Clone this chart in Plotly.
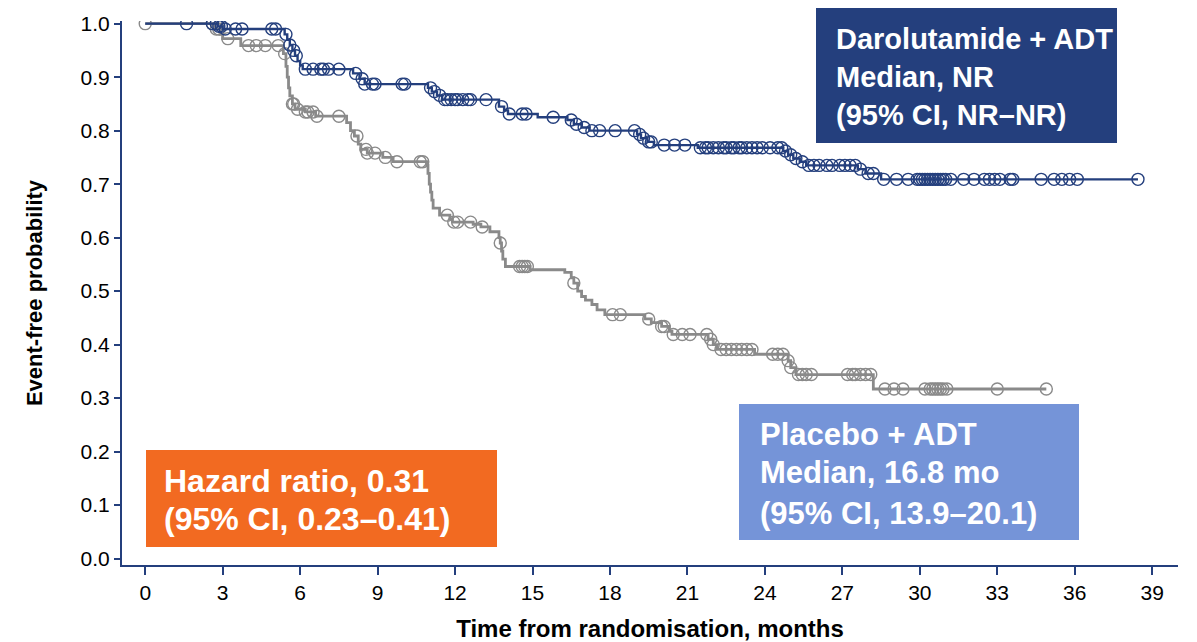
import plotly.graph_objects as go

# ---------------- data ----------------
# Darolutamide + ADT : event times (months) and survival after each event
daro_event_t = [2.8, 3.0, 5.4, 5.5, 5.6, 5.7, 5.8, 5.9, 6.0, 6.1,
                8.05, 8.3, 8.5, 10.95, 11.1, 11.3, 11.5, 13.7, 13.9, 14.05,
                15.2, 16.35, 16.6, 16.9, 17.2, 19.05, 19.2, 19.45, 19.7, 21.4,
                24.7, 24.9, 25.1, 25.35, 25.6, 27.6, 27.9, 28.5]
daro_event_s = [0.995, 0.99, 0.98, 0.97, 0.96, 0.95, 0.94, 0.93, 0.922, 0.915,
                0.907, 0.897, 0.887, 0.88, 0.873, 0.866, 0.858, 0.845, 0.838, 0.831,
                0.825, 0.82, 0.812, 0.806, 0.80, 0.793, 0.786, 0.779, 0.773, 0.768,
                0.762, 0.755, 0.748, 0.742, 0.735, 0.728, 0.72, 0.709]
daro_censor_t = [1.6, 2.6, 2.75, 2.85, 2.95, 3.1, 3.5, 3.75, 4.9, 5.05, 5.45, 5.6,
                 5.75, 5.85, 6.2, 6.5, 6.8, 6.9, 7.1, 7.5, 8.15, 8.4, 8.5, 8.8, 8.9,
                 9.95, 10.05, 11.05, 11.2, 11.4, 11.6, 11.7, 11.85, 12.0, 12.1, 12.3,
                 12.5, 12.6, 13.2, 13.8, 14.1, 14.6, 14.75, 15.8, 16.5, 16.7, 17.0,
                 17.3, 17.6, 18.2, 18.95, 19.15, 19.3, 19.5, 19.6, 20.1, 20.5, 20.9,
                 21.5, 21.7, 21.8, 22.0, 22.2, 22.4, 22.5, 22.7, 22.8, 23.0, 23.1,
                 23.3, 23.5, 23.7, 23.9, 24.2, 24.5, 24.65, 24.8, 25.0, 25.2, 25.45,
                 25.7, 25.9, 26.1, 26.4, 26.6, 26.9, 27.1, 27.3, 27.5, 27.7, 28.0,
                 28.2, 28.6, 29.1, 29.55, 29.9, 30.0, 30.1, 30.2, 30.3, 30.4, 30.5,
                 30.6, 30.7, 30.8, 30.9, 31.0, 31.2, 31.7, 32.1, 32.5, 32.7, 32.9,
                 33.1, 33.5, 33.6, 34.7, 35.2, 35.5, 35.8, 36.1, 38.45]

# Placebo + ADT
plac_event_t = [2.7, 2.9, 3.0, 3.7, 5.35, 5.45, 5.5, 5.55, 5.6, 5.7, 5.8, 6.2, 6.6,
                7.8, 7.95, 8.1, 8.25, 8.35, 8.6, 9.2, 9.6, 10.9, 10.95, 11.0, 11.05,
                11.1, 11.15, 11.4, 11.8, 11.9, 12.7, 13.0, 13.35, 13.7, 13.75, 13.8,
                13.85, 13.95, 14.9, 16.25, 16.5, 16.6, 16.75, 16.9, 17.05, 17.3, 17.5,
                17.8, 19.35, 19.6, 20.0, 20.3, 20.4, 21.8, 22.0, 22.15, 23.6, 24.9,
                25.0, 25.2, 28.2]
plac_event_s = [0.99, 0.98, 0.972, 0.959, 0.944, 0.92, 0.90, 0.88, 0.865, 0.85, 0.84,
                0.835, 0.827, 0.815, 0.80, 0.79, 0.775, 0.765, 0.758, 0.75, 0.742,
                0.735, 0.72, 0.70, 0.685, 0.67, 0.655, 0.642, 0.635, 0.629, 0.625,
                0.62, 0.611, 0.60, 0.59, 0.575, 0.56, 0.546, 0.54, 0.535, 0.525,
                0.515, 0.50, 0.49, 0.483, 0.475, 0.465, 0.456, 0.448, 0.441, 0.434,
                0.425, 0.419, 0.41, 0.40, 0.391, 0.382, 0.37, 0.357, 0.344, 0.317]
plac_censor_t = [0.0, 2.6, 2.75, 2.85, 3.2, 4.0, 4.3, 4.65, 5.15, 5.4, 5.7, 5.75, 5.9,
                 6.2, 6.3, 6.5, 6.65, 7.5, 8.2, 8.55, 8.6, 8.9, 9.3, 9.75, 10.65,
                 10.75, 11.7, 11.95, 12.1, 12.6, 13.05, 13.75, 14.5, 14.6, 14.7, 14.8,
                 16.6, 18.1, 18.4, 19.5, 20.0, 20.1, 20.45, 20.8, 21.1, 21.75, 21.9,
                 22.0, 22.3, 22.5, 22.7, 22.9, 23.1, 23.3, 23.5, 24.3, 24.5, 24.7,
                 24.9, 25.0, 25.3, 25.45, 25.6, 25.8, 27.2, 27.4, 27.5, 27.7, 27.9,
                 28.1, 28.65, 29.0, 29.35, 30.2, 30.4, 30.5, 30.6, 30.7, 30.8, 30.9,
                 31.05, 33.0, 34.9]

x_ticks = list(range(0, 40, 3))
y_ticks = [i / 10 for i in range(11)]

daro_label = ["Darolutamide + ADT", "Median, NR", "(95% CI, NR–NR)"]
plac_label = ["Placebo + ADT", "Median, 16.8 mo", "(95% CI, 13.9–20.1)"]
hr_label = ["Hazard ratio, 0.31", "(95% CI, 0.23–0.41)"]

# ---------------- helpers ----------------
NAVY = "#243F7D"
GRAY = "#8A8A8A"
FONT = "Liberation Sans, Arial, sans-serif"


def step_xy(ev_t, ev_s, end_t):
    xs = [0.0] + list(ev_t) + [end_t]
    ys = [1.0] + list(ev_s) + [ev_s[-1]]
    return xs, ys


def surv_at(t, ev_t, ev_s):
    s = 1.0
    for et, es in zip(ev_t, ev_s):
        if et <= t:
            s = es
    return s


fig = go.Figure()

for ev_t, ev_s, cen_t, col, lw in [
    (plac_event_t, plac_event_s, plac_censor_t, GRAY, 2.8),
    (daro_event_t, daro_event_s, daro_censor_t, NAVY, 2.4),
]:
    xs, ys = step_xy(ev_t, ev_s, max(cen_t))
    fig.add_trace(go.Scatter(x=xs, y=ys, mode="lines", line=dict(color=col, width=lw, shape="hv"),
                             hoverinfo="skip", showlegend=False))
    fig.add_trace(go.Scatter(x=cen_t, y=[surv_at(t, ev_t, ev_s) for t in cen_t], mode="markers",
                             marker=dict(symbol="circle-open", size=12, color=col, line=dict(width=1.4, color=col)),
                             showlegend=False))

# plot-area pixel geometry
L, R, T, B = 122, 1178, 21, 565
W, H = 1197, 642


def px(x):
    return (x - L) / (R - L)


def py(y):
    return (B - y) / (B - T)


def box(x0, y0, x1, y1, color):
    fig.add_shape(type="rect", xref="paper", yref="paper", x0=px(x0), x1=px(x1), y0=py(y1), y1=py(y0),
                  fillcolor=color, line=dict(width=0), layer="above")


def text_lines(lines, x, ys, size):
    for line, y in zip(lines, ys):
        fig.add_annotation(xref="paper", yref="paper", x=px(x), y=py(y), text="<b>" + line + "</b>",
                           showarrow=False, xanchor="left", yanchor="middle",
                           font=dict(family=FONT, size=size, color="white"))


box(816, 8, 1117, 143, NAVY)
text_lines(daro_label, 834, [39, 77, 115], 29)
box(739, 404, 1079, 540, "#7594D8")
text_lines(plac_label, 758, [434, 473, 513], 31)
box(146, 450, 497, 547, "#F26A21")
text_lines(hr_label, 162, [481, 519], 32)

axis_common = dict(showline=True, linecolor=NAVY, linewidth=2, ticks="outside", tickcolor=NAVY,
                   tickwidth=2, showgrid=False, zeroline=False, automargin=False,
                   tickfont=dict(family=FONT, size=21, color="black"))

fig.update_xaxes(range=[-0.9, 40.0], tickvals=x_ticks, ticktext=[str(v) for v in x_ticks],
                 ticklen=8, **axis_common,
                 title=dict(text="<b>Time from randomisation, months</b>", standoff=18,
                            font=dict(family=FONT, size=24, color="black")))
fig.update_yaxes(range=[-0.012, 1.005], tickvals=y_ticks, ticktext=[f"{v:.1f}" for v in y_ticks],
                 ticklen=6, **axis_common,
                 title=dict(text="<b>Event-free probability</b>", standoff=32,
                            font=dict(family=FONT, size=22, color="black")))

fig.update_layout(width=W, height=H, margin=dict(l=L, r=W - R, t=T, b=H - B),
                  plot_bgcolor="white", paper_bgcolor="white")

fig.write_html("out.html", config={"displayModeBar": False},
               post_script="document.body.style.margin='0px';")
